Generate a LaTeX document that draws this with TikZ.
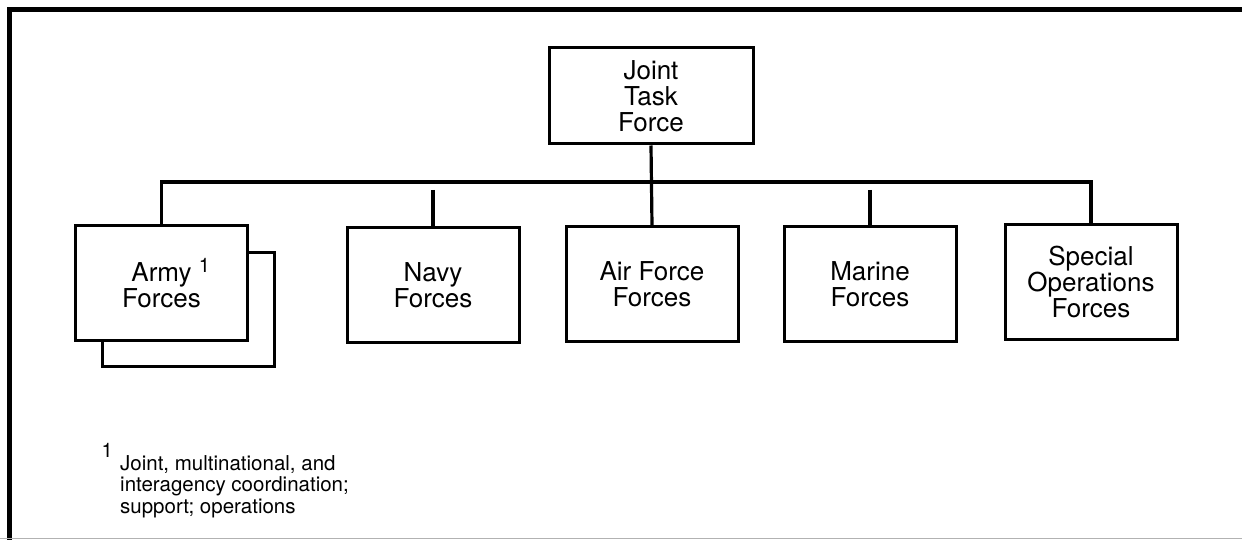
\documentclass[tikz,border=0pt]{standalone}
\usepackage{fontspec}
\setmainfont{TeX Gyre Heros}
\begin{document}
\begin{tikzpicture}[x=1pt,y=-1pt,
  unit/.style={draw,line width=3pt,fill=white,minimum width=172pt,minimum height=114pt,
    inner sep=0pt,align=center,font=\fontsize{26}{26}\selectfont},
  link/.style={line width=3.2pt}]
\useasboundingbox (0,0) rectangle (1242,540);
% frame
\draw[line width=4.5pt] (9.5,540) -- (9.5,9.5) -- (1242,9.5);
\draw[line width=1.2pt,gray!60] (0,538.5) -- (1242,538.5);

\node[unit,minimum width=204pt,minimum height=96pt] (jtf) at (651,96) {Joint\\Task\\Force};

\node[unit] (armyback) at (188,309) {};
\node[unit] (army) at (161.5,283) {Army\rlap{ \raisebox{9pt}{\fontsize{20}{20}\selectfont 1}}\\Forces};
\node[unit] (navy) at (433,285) {Navy\\Forces};
\node[unit] (air) at (652,284) {Air Force\\Forces};
\node[unit] (marine) at (870,284) {Marine\\Forces};
\node[unit] (special) at (1091,282) {Special\\Operations\\Forces};

\coordinate (bus) at (652,182);
\coordinate (navytop) at (433,190);
\coordinate (marinetop) at (870,190);
\draw[link] (army.north) |- (bus) -| (special.north);
\draw[link] (jtf.south) -- (air.north);
\draw[link] (navytop) -- (navy.north);
\draw[link] (marinetop) -- (marine.north);

% footnote
\node[anchor=north west,align=left,inner sep=0pt,font=\fontsize{20.5}{21.5}\selectfont] (note) at (120,455)
  {Joint, multinational, and\\interagency coordination;\\support; operations};
\node[anchor=north east,inner sep=0pt,font=\fontsize{20}{20}\selectfont] (noteref) at (113,443) {1};
\end{tikzpicture}
\end{document}
